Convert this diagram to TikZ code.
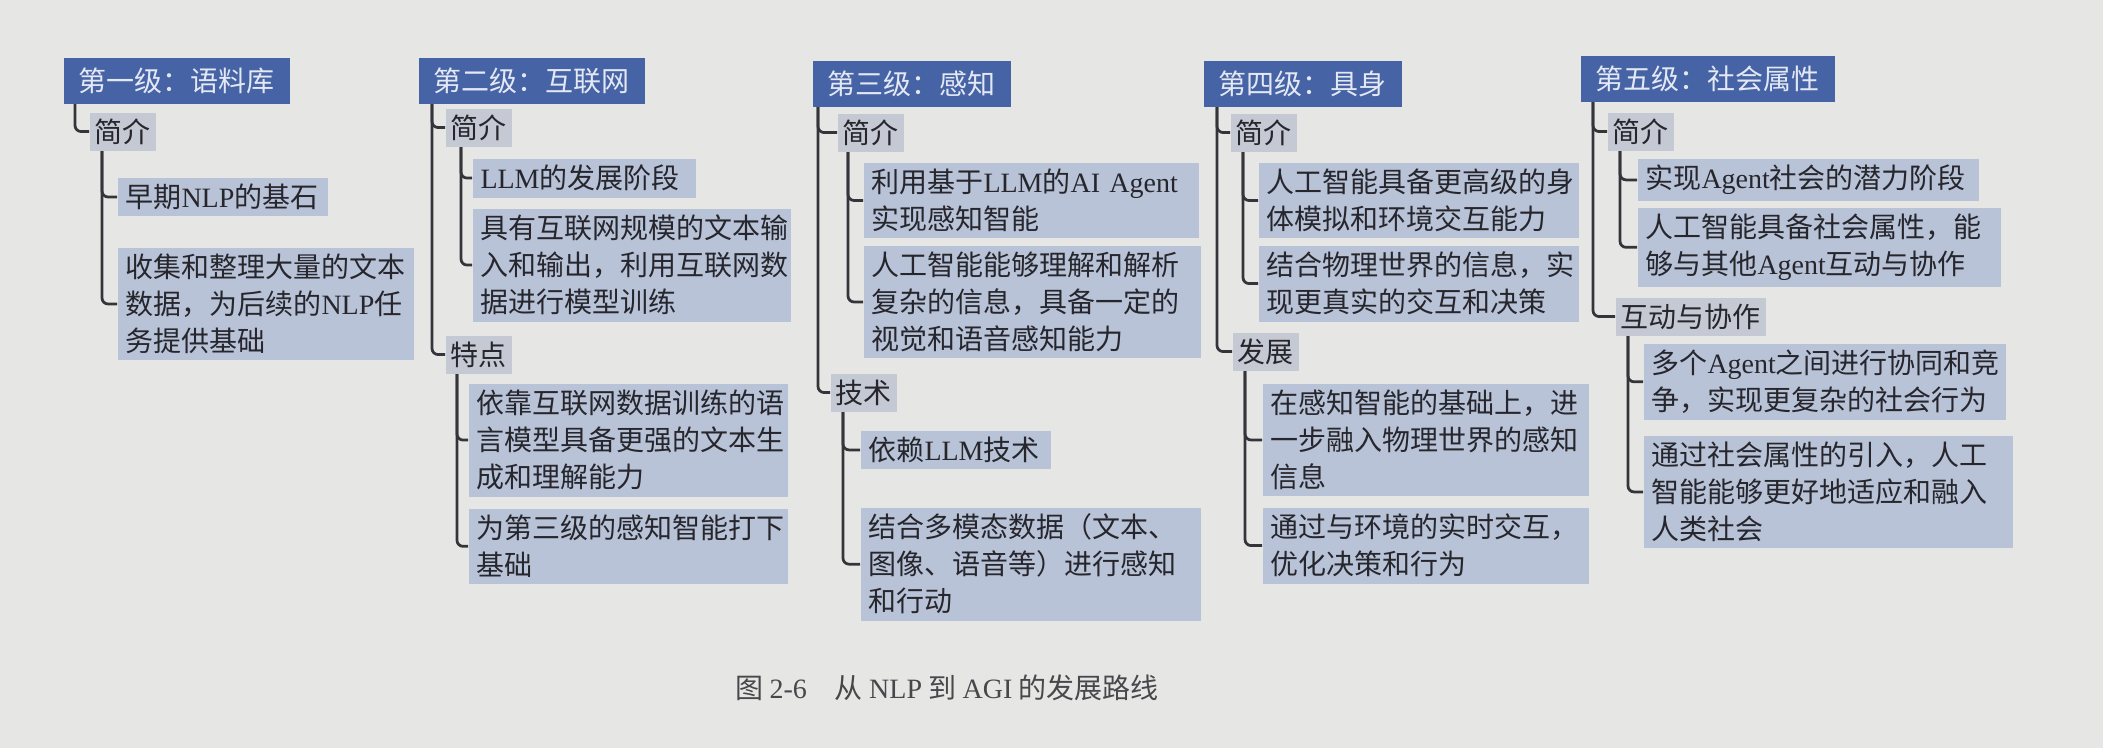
\documentclass[tikz,border=0pt]{standalone}
\usepackage{fontspec}
\setmainfont{Noto Sans CJK SC}
\newfontfamily\latn{Liberation Serif}
\newcommand\treefont{\fontsize{11.2pt}{14.8pt}\selectfont}
\newcommand\NLP{{\latn NLP}}
\newcommand\LLM{{\latn LLM}}
\newcommand\Agent{{\latn Agent}}
\definecolor{paper}{RGB}{230,230,228}
\definecolor{headblue}{RGB}{70,100,165}
\definecolor{headtext}{RGB}{228,232,244}
\definecolor{topicgray}{RGB}{197,201,211}
\definecolor{leafblue}{RGB}{184,195,216}
\definecolor{treeline}{RGB}{52,52,58}
\definecolor{ink}{RGB}{38,38,44}
\tikzset{
	head/.style = {
		fill = headblue,
		text = headtext,
		anchor = north west,
		inner xsep = 6pt,
		inner ysep = 0pt,
		minimum height = 18.4pt
	},
	topic/.style = {
		fill = topicgray,
		anchor = north west,
		inner xsep = 2pt,
		inner ysep = 0pt,
		minimum height = 15.2pt
	},
	leaf/.style = {
		fill = leafblue,
		anchor = north west,
		align = left,
		inner xsep = 3.2pt,
		inner ysep = 2.6pt
	},
	tree/.style = {
		draw = treeline,
		line width = 1.1pt,
		rounded corners = 2.4pt
	}
}
\begin{document}
\begin{tikzpicture}[x=0.4pt, y=-0.4pt, every node/.style={font=\treefont, text=ink}]
    \fill [paper] (0,0) rectangle (2103,748) ;
    \useasboundingbox (0,0) rectangle (2103,748) ;

    \node [head] (h1) at (63,57) {第一级：语料库} ;
    \node [topic] (c1) at (89,112) {简介} ;
    \node [leaf, text width=77.6pt] (c1a) at (117,177) {早期\NLP{}的基石} ;
    \node [leaf, text width=112pt] (c1b) at (117,247) {收集和整理大量的文本\\数据，为后续的\NLP{}任\\务提供基础} ;

    \node [head] (h2) at (418,57) {第二级：互联网} ;
    \node [topic] (c2) at (445,108) {简介} ;
    \node [leaf, text width=82.8pt] (c2a) at (472,158) {\LLM{}的发展阶段} ;
    \node [leaf, text width=120.8pt] (c2b) at (472,208) {具有互联网规模的文本输\\入和输出，利用互联网数\\据进行模型训练} ;
    \node [topic] (d2) at (445,335) {特点} ;
    \node [leaf, text width=121.2pt] (d2a) at (468,383) {依靠互联网数据训练的语\\言模型具备更强的文本生\\成和理解能力} ;
    \node [leaf, text width=121.2pt] (d2b) at (468,508) {为第三级的感知智能打下\\基础} ;

    \node [head] (h3) at (812,60) {第三级：感知} ;
    \node [topic] (c3) at (837,113) {简介} ;
    \node [leaf, text width=127.6pt] (c3a) at (863,162) {利用基于\LLM{}的{\latn AI Agent}\\实现感知智能} ;
    \node [leaf, text width=128.4pt] (c3b) at (863,245) {人工智能能够理解和解析\\复杂的信息，具备一定的\\视觉和语音感知能力} ;
    \node [topic] (d3) at (830,373) {技术} ;
    \node [leaf, text width=69.6pt] (d3a) at (860,430) {依赖\LLM{}技术} ;
    \node [leaf, text width=129.6pt] (d3b) at (860,507) {结合多模态数据（文本、\\图像、语音等）进行感知\\和行动} ;

    \node [head] (h4) at (1203,60) {第四级：具身} ;
    \node [topic] (c4) at (1230,113) {简介} ;
    \node [leaf, text width=121.6pt] (c4a) at (1258,162) {人工智能具备更高级的身\\体模拟和环境交互能力} ;
    \node [leaf, text width=121.6pt] (c4b) at (1258,245) {结合物理世界的信息，实\\现更真实的交互和决策} ;
    \node [topic] (d4) at (1232,332) {发展} ;
    \node [leaf, text width=124pt] (d4a) at (1262,383) {在感知智能的基础上，进\\一步融入物理世界的感知\\信息} ;
    \node [leaf, text width=124pt] (d4b) at (1262,507) {通过与环境的实时交互，\\优化决策和行为} ;

    \node [head] (h5) at (1580,55) {第五级：社会属性} ;
    \node [topic] (c5) at (1607,112) {简介} ;
    \node [leaf, text width=130pt] (c5a) at (1637,158) {实现\Agent{}社会的潜力阶段} ;
    \node [leaf, text width=138.8pt] (c5b) at (1637,207) {人工智能具备社会属性，能\\够与其他\Agent{}互动与协作} ;
    \node [topic] (d5) at (1615,297) {互动与协作} ;
    \node [leaf, text width=138.4pt] (d5a) at (1643,343) {多个\Agent{}之间进行协同和竞\\争，实现更复杂的社会行为} ;
    \node [leaf, text width=141.2pt] (d5b) at (1643,435) {通过社会属性的引入，人工\\智能能够更好地适应和融入\\人类社会} ;

    \draw [tree] (h1.south west) ++(12,0) |- (c1.west) ;
    \draw [tree] (c1.south west) ++(13,0) |- (c1a.west) ;
    \draw [tree] (c1.south west) ++(13,0) |- (c1b.west) ;

    \draw [tree] (h2.south west) ++(14,0) |- (c2.west) ;
    \draw [tree] (h2.south west) ++(14,0) |- (d2.west) ;
    \draw [tree] (c2.south west) ++(16,0) |- (c2a.west) ;
    \draw [tree] (c2.south west) ++(16,0) |- (c2b.west) ;
    \draw [tree] (d2.south west) ++(12,0) |- (d2a.west) ;
    \draw [tree] (d2.south west) ++(12,0) |- (d2b.west) ;

    \draw [tree] (h3.south west) ++(6,0) |- (c3.west) ;
    \draw [tree] (h3.south west) ++(6,0) |- (d3.west) ;
    \draw [tree] (c3.south west) ++(11,0) |- (c3a.west) ;
    \draw [tree] (c3.south west) ++(11,0) |- (c3b.west) ;
    \draw [tree] (d3.south west) ++(13,0) |- (d3a.west) ;
    \draw [tree] (d3.south west) ++(13,0) |- (d3b.west) ;

    \draw [tree] (h4.south west) ++(14,0) |- (c4.west) ;
    \draw [tree] (h4.south west) ++(14,0) |- (d4.west) ;
    \draw [tree] (c4.south west) ++(13,0) |- (c4a.west) ;
    \draw [tree] (c4.south west) ++(13,0) |- (c4b.west) ;
    \draw [tree] (d4.south west) ++(13,0) |- (d4a.west) ;
    \draw [tree] (d4.south west) ++(13,0) |- (d4b.west) ;

    \draw [tree] (h5.south west) ++(13,0) |- (c5.west) ;
    \draw [tree] (h5.south west) ++(13,0) |- (d5.west) ;
    \draw [tree] (c5.south west) ++(13,0) |- (c5a.west) ;
    \draw [tree] (c5.south west) ++(13,0) |- (c5b.west) ;
    \draw [tree] (d5.south west) ++(13,0) |- (d5a.west) ;
    \draw [tree] (d5.south west) ++(13,0) |- (d5b.west) ;

    \node [text=ink!85] (caption) at (947,688) {图 {\latn 2-6}\quad 从 \NLP{} 到 {\latn AGI} 的发展路线} ;
\end{tikzpicture}
\end{document}
